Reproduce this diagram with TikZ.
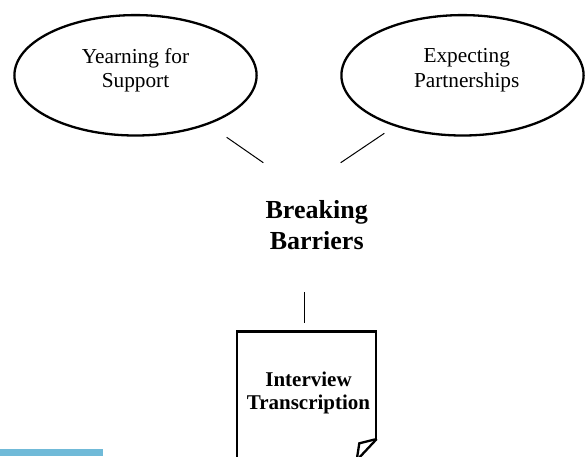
\documentclass[tikz,border=0pt]{standalone}
\usepackage{fontspec}
\setmainfont{Liberation Serif}
\usetikzlibrary{shapes.geometric}
\definecolor{barblue}{RGB}{112,186,216}
\begin{document}
\begin{tikzpicture}[x=1pt,y=-1pt,
  theme/.style={ellipse,draw,line width=2.3pt,minimum width=242.2pt,minimum height=120.4pt,inner sep=0pt},
  themetext/.style={align=center,inner sep=0pt,font=\fontsize{21.3}{24.6}\selectfont},
  coretext/.style={align=center,inner sep=0pt,font=\fontsize{26}{31}\selectfont\bfseries},
  doctext/.style={align=center,inner sep=0pt,font=\fontsize{21}{23.3}\selectfont\bfseries},
  link/.style={line width=1pt},
  docshape/.style={line width=2.3pt,line join=miter}]
\useasboundingbox (0,0) rectangle (585,456);
\clip (0,0) rectangle (585,456);

% two themes
\node[theme] (support) at (135.5,75.3) {};
\node[themetext] (supportt) at (135.5,70.2) {Yearning for\\Support};
\node[theme] (partner) at (462.5,75.3) {};
\node[themetext] (partnert) at (466.7,70.2) {Expecting\\Partnerships};

% central finding
\node[coretext] (core) at (316.7,224.9) {Breaking\\Barriers};

% source document
\node[doctext] (doc) at (308.5,392.8) {Interview\\Transcription};
\draw[docshape] (236.7,460) -- (236.7,331.5) -- (376.2,331.5) -- (376.2,439.5);
\draw[docshape] (376.7,439) -- (359.3,443.3) -- (356.7,460);
\draw[docshape] (376.7,439) -- (357,460);

% connector end points
\coordinate (s1) at (226.7,137.3);
\coordinate (s2) at (263.3,162.7);
\coordinate (p1) at (384.3,133.3);
\coordinate (p2) at (340.7,162.7);
\coordinate (d1) at (304,292.3);
\coordinate (d2) at (304,322.7);
\draw[link] (s1) -- (s2);
\draw[link] (p1) -- (p2);
\draw[link] (d1) -- (d2);

% accent bar
\fill[barblue] (0,449.3) rectangle (102.7,456);
\end{tikzpicture}
\end{document}
